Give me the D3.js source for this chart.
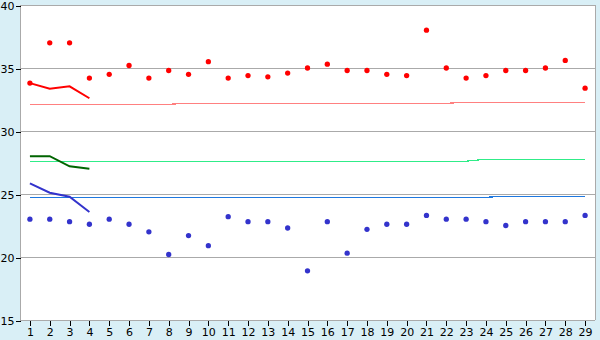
<!DOCTYPE html>
<html>
<head>
<meta charset="utf-8">
<script src="https://cdn.jsdelivr.net/npm/d3@7"></script>
<style>
  body { margin: 0; background: #d9eff6; }
  svg { display: block; font-family: "DejaVu Sans", Verdana, sans-serif; }
</style>
</head>
<body>
<svg></svg>
<script>
// x categories (days)
var days = [1,2,3,4,5,6,7,8,9,10,11,12,13,14,15,16,17,18,19,20,21,22,23,24,25,26,27,28,29];
var yTicks = [15,20,25,30,35,40];

// daily readings
var upper = [33.8,37.0,37.0,34.2,34.5,35.2,34.2,34.8,34.5,35.5,34.2,34.4,34.3,34.6,35.0,
             35.3,34.8,34.8,34.5,34.4,38.0,35.0,34.2,34.4,34.8,34.8,35.0,35.6,33.4];
var lower = [23.0,23.0,22.8,22.6,23.0,22.6,22.0,20.2,21.7,20.9,23.2,22.8,22.8,22.3,18.9,
             22.8,20.3,22.2,22.6,22.6,23.3,23.0,23.0,22.8,22.5,22.8,22.8,22.8,23.3];

// long-term levels (thin lines)
var upperLevel = [32.12,32.12,32.12,32.12,32.12,32.12,32.12,32.12,32.2,32.2,32.2,32.2,32.2,32.2,32.2,
                  32.2,32.2,32.2,32.2,32.2,32.2,32.2,32.28,32.28,32.28,32.28,32.28,32.28,32.28];
var meanLevel  = [27.6,27.6,27.6,27.6,27.6,27.6,27.6,27.6,27.6,27.6,27.6,27.6,27.6,27.6,27.6,
                  27.6,27.6,27.6,27.6,27.6,27.6,27.6,27.6,27.76,27.76,27.76,27.76,27.76,27.76];
var lowerLevel = [24.74,24.74,24.74,24.74,24.74,24.74,24.74,24.74,24.74,24.74,24.74,24.74,24.74,24.74,24.74,
                  24.74,24.74,24.74,24.74,24.74,24.74,24.74,24.74,24.74,24.82,24.82,24.82,24.82,24.82];

// short trends over the first days (thick lines)
var trendDays  = [1,2,3,4];
var upperTrend = [33.8,33.35,33.55,32.6];
var meanTrend  = [28.0,28.0,27.2,27.0];
var lowerTrend = [25.85,25.1,24.78,23.57];

var W = 600, H = 340;
var plotL = 20, plotR = 595, plotT = 5, plotB = 320;

var svg = d3.select('svg').attr('width', W).attr('height', H);

var x = d3.scalePoint().domain(days).range([plotL, plotR]).padding(0.5);
var y = d3.scaleLinear().domain([15, 40]).range([plotB, plotT]);

svg.append('rect')
    .attr('x', plotL).attr('y', plotT)
    .attr('width', plotR - plotL).attr('height', plotB - plotT)
    .attr('fill', '#fff');

// grid
svg.append('g')
    .selectAll('line')
    .data(yTicks.slice(1))
    .join('line')
    .attr('x1', plotL).attr('x2', plotR)
    .attr('y1', function(d) { return y(d) + 0.5; })
    .attr('y2', function(d) { return y(d) + 0.5; })
    .attr('stroke', '#aaa')
    .attr('shape-rendering', 'crispEdges');

svg.append('line')
    .attr('x1', plotR + 0.5).attr('x2', plotR + 0.5)
    .attr('y1', plotT).attr('y2', plotB)
    .attr('stroke', '#aaa')
    .attr('shape-rendering', 'crispEdges');

// axes
var yAxis = svg.append('g')
    .attr('transform', 'translate(' + (plotL + 0.5) + ',0.5)')
    .call(d3.axisLeft(y).tickValues(yTicks).tickSize(5).tickPadding(1));

var xAxis = svg.append('g')
    .attr('transform', 'translate(0,' + (plotB + 0.5) + ')')
    .call(d3.axisBottom(x).tickSize(5).tickPadding(3));

[yAxis, xAxis].forEach(function(a) {
    a.selectAll('path').attr('stroke', '#aaa').attr('shape-rendering', 'crispEdges');
    a.selectAll('line').attr('stroke', '#000').attr('shape-rendering', 'crispEdges');
    a.selectAll('text').attr('font-size', 11).attr('fill', '#000')
        .attr('font-family', '"DejaVu Sans", Verdana, sans-serif');
});
yAxis.select('.domain').attr('d', 'M0,' + plotB + 'V' + plotT);
xAxis.select('.domain').attr('d', 'M' + plotL + ',0H' + plotR);

// thin level lines
var levelLine = d3.line()
    .x(function(d, i) { return x(days[i]); })
    .y(function(d) { return y(d); });

[[upperLevel, '#ff8080'], [meanLevel, '#30ec88'], [lowerLevel, '#1f78df']].forEach(function(s) {
    svg.append('path')
        .datum(s[0])
        .attr('d', levelLine)
        .attr('fill', 'none')
        .attr('stroke', s[1])
        .attr('stroke-width', 1.2)
        .attr('shape-rendering', 'crispEdges');
});

// thick trend lines
var trendLine = d3.line()
    .x(function(d, i) { return x(trendDays[i]); })
    .y(function(d) { return y(d); });

[[upperTrend, '#ff0000'], [meanTrend, '#006400'], [lowerTrend, '#3333cc']].forEach(function(s) {
    svg.append('path')
        .datum(s[0])
        .attr('d', trendLine)
        .attr('fill', 'none')
        .attr('stroke', s[1])
        .attr('stroke-width', 2);
});

// points
var marker = d3.symbol().type(d3.symbolCircle).size(22);

[[upper, '#ff0000'], [lower, '#3333cc']].forEach(function(s) {
    svg.append('g')
        .selectAll('path')
        .data(s[0])
        .join('path')
        .attr('transform', function(d, i) { return 'translate(' + x(days[i]) + ',' + y(d) + ')'; })
        .attr('d', marker)
        .attr('fill', s[1]);
});
</script>
</body>
</html>
